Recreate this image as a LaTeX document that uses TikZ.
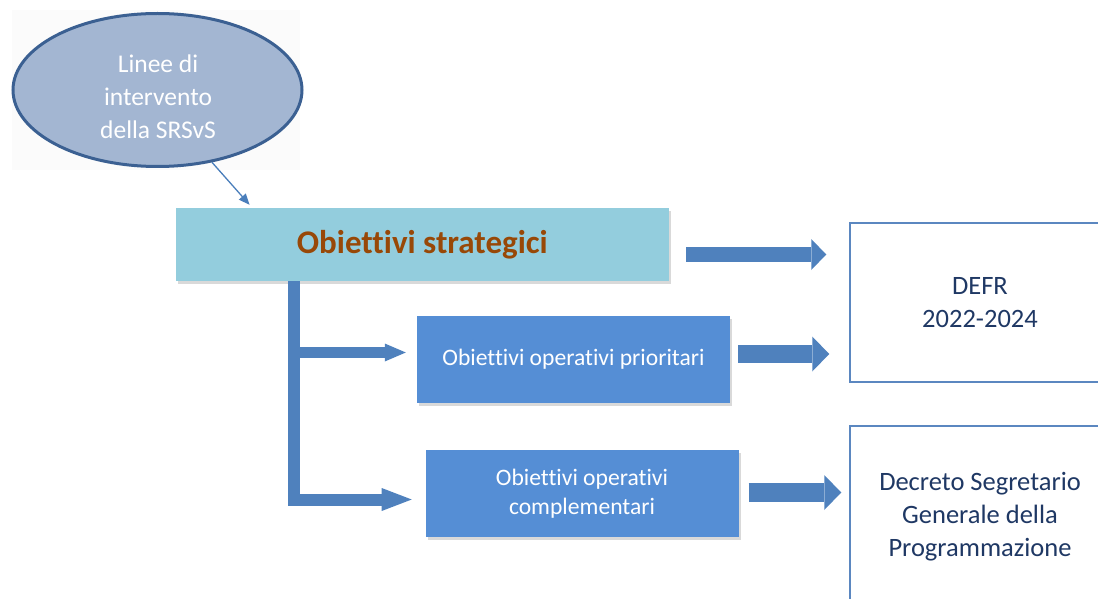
\documentclass[tikz,border=0pt]{standalone}
\usepackage{fontspec}
\setmainfont{Carlito}[Ligatures={NoCommon}]
\usetikzlibrary{shapes.geometric,arrows.meta,shadows}
\definecolor{ellfill}{HTML}{A3B6D2}
\definecolor{elldraw}{HTML}{3B6092}
\definecolor{stratc}{HTML}{93CDDD}
\definecolor{brownc}{HTML}{984807}
\definecolor{boxblue}{HTML}{558ED5}
\definecolor{blockc}{HTML}{4F81BD}
\definecolor{thinc}{HTML}{4A7EBB}
\definecolor{rbord}{HTML}{5B87C0}
\definecolor{rtext}{HTML}{1F3864}
\tikzset{
  shade3/.style={drop shadow={shadow xshift=2pt,shadow yshift=-3pt,opacity=0.25,fill=black!60}},
  bluebox/.style={rectangle, fill=boxblue, minimum width=313pt, minimum height=87pt, inner sep=2pt,
    text=white, align=center, font=\fontsize{23.6}{28.5}\selectfont, shade3},
  rightbox/.style={rectangle, draw=rbord, line width=1.5pt, fill=white, text=rtext, align=center,
    font=\fontsize{26.5}{33}\selectfont},
}
\begin{document}
\begin{tikzpicture}[x=1pt,y=-1pt]
\path[use as bounding box] (0,0) rectangle (1098,599);
\clip (0,0) rectangle (1098,599);
% faint background behind ellipse
\fill[black!1.5] (12,10) rectangle (300,170);
\node[ellipse, draw=elldraw, fill=ellfill, line width=3pt, minimum width=289pt, minimum height=153pt, inner sep=0pt] (srs) at (157.5,90) {};
\node[text=white, align=center, font=\fontsize{25.5}{33}\selectfont] (srslbl) at (158,97) {Linee di\\intervento\\della SRSvS};
% main boxes
\node[rectangle, fill=stratc, minimum width=493pt, minimum height=73pt, inner sep=0pt, shade3,
  text=brownc, font=\fontsize{33}{40}\selectfont\bfseries] (strat) at (422.3,244.5) {Obiettivi strategici};
\node[bluebox] (prio) at (573.5,359.5) {Obiettivi operativi prioritari};
\node[bluebox] (comp) at (582,493.5) {Obiettivi operativi\\complementari};
\node[rightbox, minimum width=260pt, minimum height=159pt] (defr) at (980,302.5) {DEFR\\2022-2024};
\node[rightbox, minimum width=260pt, minimum height=182pt] (decr) at (980,517) {Decreto Segretario\\Generale della\\Programmazione};
% thin arrow
\draw[thinc, line width=1.3pt, -{Triangle[length=11pt,width=9pt]}] (srs.-53) -- ([xshift=74pt,yshift=3pt]strat.north west);
% elbow connector
\draw[blockc, line width=12pt, line join=miter, -{Triangle[length=30pt,width=23pt,line width=0pt]}]
  ([xshift=118.4pt]strat.south west) |- ([xshift=-13.6pt,yshift=-6pt]comp.west);
\draw[blockc, line width=11pt, -{Triangle[length=21pt,width=18pt,line width=0pt]}]
  ([xshift=-120pt,yshift=7pt]prio.west) -- ([xshift=-11pt,yshift=7pt]prio.west);
% block arrows to the right
\coordinate (a1) at ([xshift=17pt,yshift=-10pt]strat.east);
\draw[blockc, line width=15pt, -{Triangle[length=15pt,width=31pt,line width=0pt]}] (a1) -- ([xshift=-23pt]a1 -| defr.west);
\coordinate (a2) at ([xshift=8pt,yshift=5.5pt]prio.east);
\draw[blockc, line width=18pt, -{Triangle[length=17pt,width=35pt,line width=0pt]}] (a2) -- ([xshift=-20pt]a2 -| defr.west);
\coordinate (a3) at ([xshift=10pt,yshift=1pt]comp.east);
\draw[blockc, line width=19pt, -{Triangle[length=17pt,width=35pt,line width=0pt]}] (a3) -- ([xshift=-8pt]a3 -| decr.west);
\end{tikzpicture}
\end{document}
